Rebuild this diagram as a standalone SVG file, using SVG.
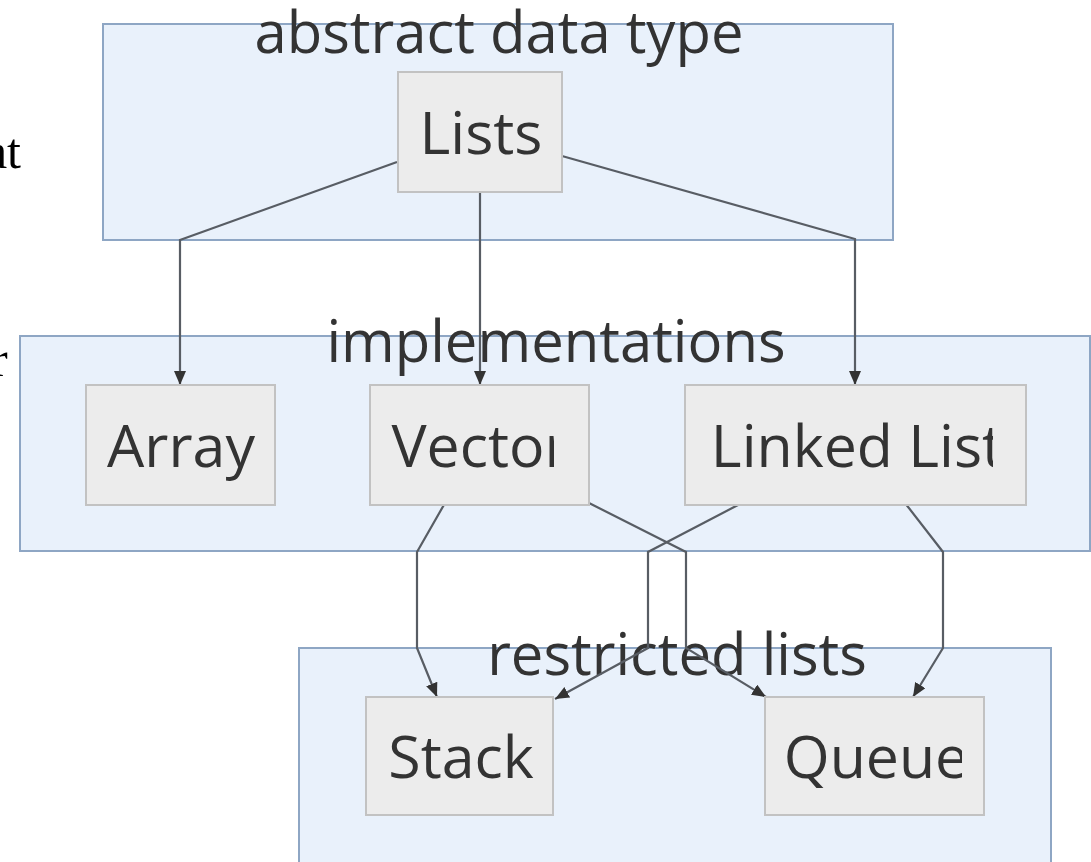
<svg xmlns="http://www.w3.org/2000/svg" width="1091" height="862" viewBox="0 0 1091 862">
<style>
.cluster rect{fill:#e9f1fb;stroke:#8ea6c4;stroke-width:2}
.ctext{font-family:"Open Sans","Noto Sans",sans-serif;font-size:58px;fill:#333;text-anchor:middle}
.node rect{fill:#ececec;stroke:#c2c2c2;stroke-width:2}
.ntext{font-family:"Open Sans","Noto Sans",sans-serif;font-size:59px;fill:#333;text-anchor:middle}
.edge{fill:none;stroke:#585d64;stroke-width:2.2}
.frag{font-family:"Liberation Serif","Times New Roman",serif;font-size:50px;fill:#000}
</style>
<defs>
<marker id="arrow" viewBox="0 0 14 12" refX="14" refY="6" markerWidth="14" markerHeight="12" markerUnits="userSpaceOnUse" orient="auto">
<path d="M0,0 L14,6 L0,12 Z" fill="#333"/>
</marker>
<clipPath id="clipVector"><rect x="370" y="385" width="184" height="120"/></clipPath>
<clipPath id="clipLinked"><rect x="685" y="385" width="308" height="120"/></clipPath>
<clipPath id="clipStack"><rect x="366" y="697" width="172" height="120"/></clipPath>
<clipPath id="clipQueue"><rect x="765" y="697" width="197" height="120"/></clipPath>
</defs>
<rect width="1091" height="862" fill="#ffffff"/>
<text class="frag" x="21" y="168" text-anchor="end">at</text>
<text class="frag" x="-9" y="376">r</text>
<g id="cluster-adt" class="cluster">
<rect x="103" y="24" width="790" height="216"/>
<text class="ctext" x="499" y="53">abstract data type</text>
</g>
<g id="cluster-impl" class="cluster">
<rect x="20" y="336" width="1070" height="215"/>
<text class="ctext" x="556" y="362">implementations</text>
</g>
<g id="cluster-restricted" class="cluster">
<rect x="299" y="648" width="752" height="230"/>
<text class="ctext" x="677" y="675">restricted lists</text>
</g>
<g id="connectors">
<path class="edge" d="M397,162 L180,240 L180,385" marker-end="url(#arrow)"/>
<path class="edge" d="M480,192 L480,385" marker-end="url(#arrow)"/>
<path class="edge" d="M562,156 L855,239 L855,385" marker-end="url(#arrow)"/>
<path class="edge" d="M445,503 L417,552 L417,648 L437,697" marker-end="url(#arrow)"/>
<path class="edge" d="M589,503 L686,552 L686,648 L766,697" marker-end="url(#arrow)"/>
<path class="edge" d="M738,505 L648,552 L648,648 L555,699" marker-end="url(#arrow)"/>
<path class="edge" d="M905,503 L943,552 L943,648 L913,697" marker-end="url(#arrow)"/>
</g>
<g id="node-lists" class="node">
<rect x="398" y="72" width="164" height="120"/>
<text class="ntext" x="481" y="154">Lists</text>
</g>
<g id="node-array" class="node">
<rect x="86" y="385" width="189" height="120"/>
<text class="ntext" x="181" y="467">Array</text>
</g>
<g id="node-vector" class="node">
<rect x="370" y="385" width="219" height="120"/>
<text class="ntext" x="480" y="467" clip-path="url(#clipVector)">Vector</text>
</g>
<g id="node-linkedlist" class="node">
<rect x="685" y="385" width="341" height="120"/>
<text class="ntext" x="857" y="467" clip-path="url(#clipLinked)">Linked List</text>
</g>
<g id="node-stack" class="node">
<rect x="366" y="697" width="187" height="118"/>
<text class="ntext" x="461" y="778" clip-path="url(#clipStack)">Stack</text>
</g>
<g id="node-queue" class="node">
<rect x="765" y="697" width="219" height="118"/>
<text class="ntext" x="876" y="778" clip-path="url(#clipQueue)">Queue</text>
</g>
</svg>
